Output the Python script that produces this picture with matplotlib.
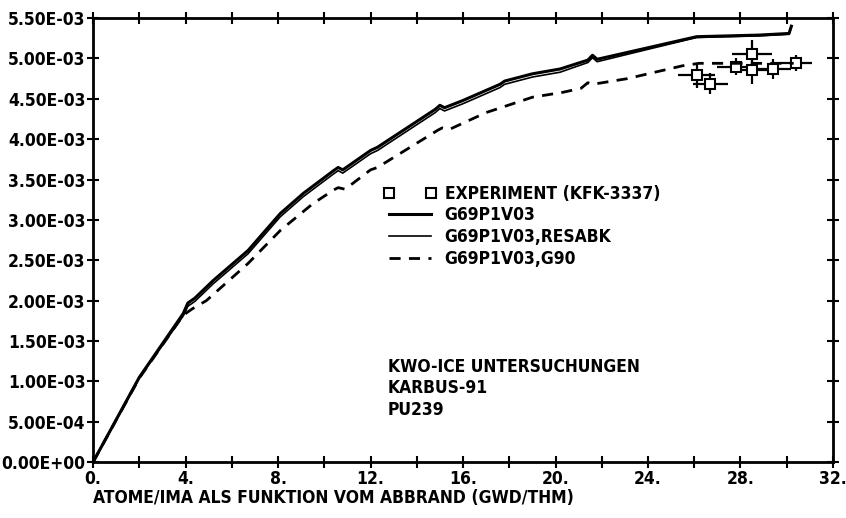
import numpy as np
import matplotlib
matplotlib.use('Agg')
import matplotlib.pyplot as plt
from matplotlib.ticker import MultipleLocator, FixedLocator

plt.rcParams['font.family'] = ['DejaVu Sans']
plt.rcParams['font.stretch'] = 'condensed'
plt.rcParams['font.weight'] = 'bold'

# burnup (GWD/THM) and atoms per initial metal atom (units of 1e-3)
x_g69 = [0, 2.0, 3.9, 4.1, 4.4, 5.2, 6.7, 8.1, 8.9, 9.1, 10.4, 10.6, 10.8, 12.0, 12.3,
         14.8, 15.0, 15.2, 16.0, 17.6, 17.8, 19.0, 20.2, 21.4, 21.6, 21.8, 23.8, 26.1,
         28.8, 30.1, 30.2]
y_g69 = [0, 1.05, 1.84, 1.97, 2.03, 2.25, 2.62, 3.08, 3.28, 3.33, 3.61, 3.65, 3.62, 3.86, 3.90,
         4.37, 4.42, 4.39, 4.48, 4.68, 4.72, 4.81, 4.87, 4.98, 5.04, 4.99, 5.12, 5.27,
         5.29, 5.31, 5.40]

x_resabk = x_g69
y_resabk = [0, 1.04, 1.81, 1.93, 1.99, 2.21, 2.58, 3.04, 3.24, 3.29, 3.57, 3.61, 3.58, 3.82, 3.86,
            4.33, 4.38, 4.35, 4.44, 4.64, 4.68, 4.77, 4.83, 4.95, 5.01, 4.96, 5.10, 5.26,
            5.28, 5.30, 5.39]

x_g90 = [0, 2.0, 3.9, 4.3, 4.9, 6.7, 8.1, 9.5, 10.4, 10.6, 10.9, 12.0, 12.3, 14.9, 15.1,
         15.4, 17.0, 19.0, 20.3, 21.1, 21.4, 21.6, 23.1, 25.5, 26.2, 30.3]
y_g90 = [0, 1.04, 1.82, 1.90, 2.00, 2.46, 2.87, 3.20, 3.37, 3.40, 3.38, 3.62, 3.65, 4.11, 4.14,
         4.12, 4.33, 4.52, 4.58, 4.63, 4.70, 4.68, 4.75, 4.91, 4.94, 4.94]

# experiment KFK-3337
exp_x = [26.1, 26.7, 27.8, 28.5, 28.5, 29.4, 30.4]
exp_y = [4.79, 4.69, 4.90, 5.06, 4.86, 4.87, 4.94]
exp_xerr = [0.8, 0.75, 0.8, 0.85, 0.9, 0.8, 0.7]
exp_yerr = [0.15, 0.13, 0.10, 0.17, 0.17, 0.12, 0.10]

x_ticks = [0, 4, 8, 12, 16, 20, 24, 28, 32]
x_labels = ['0.', '4.', '8.', '12.', '16.', '20.', '24.', '28.', '32.']
y_ticks = [0, 0.5, 1.0, 1.5, 2.0, 2.5, 3.0, 3.5, 4.0, 4.5, 5.0, 5.5]
y_labels = ['0.00E+00', '5.00E-04', '1.00E-03', '1.50E-03', '2.00E-03', '2.50E-03',
            '3.00E-03', '3.50E-03', '4.00E-03', '4.50E-03', '5.00E-03', '5.50E-03']

fs = 12.5

fig = plt.figure(figsize=(8.46, 5.18), dpi=100)
ax = fig.add_axes([0.11, 0.108, 0.8746, 0.857])

ax.errorbar(exp_x, exp_y, xerr=exp_xerr, yerr=exp_yerr, fmt='none', ecolor='black',
            elinewidth=1.6, capsize=0)
ax.plot(exp_x, exp_y, 's', ms=7, mfc='white', mec='black', mew=1.5,
        label='EXPERIMENT (KFK-3337)')
ax.plot(x_g69, y_g69, color='black', lw=2.2, label='G69P1V03')
ax.plot(x_resabk, y_resabk, color='black', lw=1.2, label='G69P1V03,RESABK')
ax.plot(x_g90, y_g90, color='black', lw=2.0, ls=(0, (4, 3)), label='G69P1V03,G90')

ax.set_xlim(0, 32)
ax.set_ylim(0, 5.5)
ax.xaxis.set_major_locator(FixedLocator(x_ticks))
ax.set_xticklabels(x_labels)
ax.xaxis.set_minor_locator(MultipleLocator(2))
ax.yaxis.set_major_locator(FixedLocator(y_ticks))
ax.set_yticklabels(y_labels)

ax.tick_params(axis='both', which='both', direction='inout', length=9, width=1.5,
               top=True, right=True, labelsize=fs, pad=1)
ax.tick_params(axis='x', pad=1)
for s in ax.spines.values():
    s.set_linewidth(2)

ax.set_xlabel('ATOME/IMA ALS FUNKTION VOM ABBRAND (GWD/THM)', fontsize=fs,
              fontweight='bold', loc='left', labelpad=1)

ax.legend(loc='upper left', bbox_to_anchor=(0.393, 0.625), frameon=False, numpoints=2,
          handlelength=3.0, handletextpad=0.5, labelspacing=0.22, fontsize=fs,
          borderaxespad=0, borderpad=0)

ax.text(0.398, 0.235, 'KWO-ICE UNTERSUCHUNGEN\nKARBUS-91\nPU239', transform=ax.transAxes,
        fontsize=fs, fontweight='bold', va='top', ha='left', linespacing=1.25)

fig.savefig('out.png', dpi=100)
